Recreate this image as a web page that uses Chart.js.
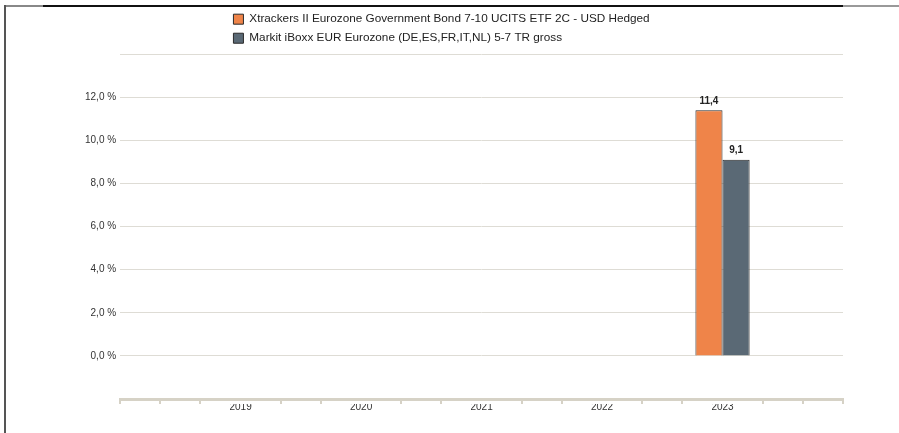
<!DOCTYPE html>
<html>
<head>
<meta charset="utf-8">
<script src="https://cdn.jsdelivr.net/npm/chart.js@4"></script>
<style>
  html, body { margin: 0; padding: 0; background: #fff; }
  #wrap { position: relative; width: 899px; height: 433px; overflow: hidden; }
  #frameTop { position: absolute; left: 4px; top: 5px; width: 895px; height: 2px;
    background: linear-gradient(to right, #888 0px, #888 39px, #111 39px, #111 839px, #999 839px); }
  #frameLeft { position: absolute; left: 4px; top: 5px; width: 2px; height: 428px; background: #555; }
  canvas { position: absolute; left: 0; top: 0; }
</style>
</head>
<body>
<div id="wrap">
  <div id="frameTop"></div>
  <div id="frameLeft"></div>
  <canvas id="chart" width="899" height="433"></canvas>
</div>
<script>
// categories (empty ones pad the axis on both sides)
const years = ["", "2019", "2020", "2021", "2022", "2023", ""];
const fundName = "Xtrackers II Eurozone Government Bond 7-10 UCITS ETF 2C - USD Hedged";
const indexName = "Markit iBoxx EUR Eurozone (DE,ES,FR,IT,NL) 5-7 TR gross";
const fundValues = [null, null, null, null, null, 11.4, null];
const indexValues = [null, null, null, null, null, 9.1, null];
const yTicks = [0, 2, 4, 6, 8, 10, 12];

const fmt = (v) => v.toFixed(1).replace(".", ",");

Chart.defaults.font.family = "'Liberation Sans', Arial, sans-serif";
Chart.defaults.font.size = 10;
Chart.defaults.color = "#333";

// move legend rows so they start where the original does
const legendShift = {
    id: "legendShift",
    afterLayout(chart) {
        chart.legend.left += 106;
    },
};

const valueLabels = {
    id: "valueLabels",
    afterDatasetsDraw(chart) {
        const ctx = chart.ctx;
        ctx.save();
        ctx.font = "bold 10px 'Liberation Sans', Arial, sans-serif";
        ctx.fillStyle = "#222";
        ctx.textAlign = "center";
        ctx.textBaseline = "bottom";
        chart.data.datasets.forEach((ds, i) => {
            chart.getDatasetMeta(i).data.forEach((bar, j) => {
                if (ds.data[j] == null) return;
                ctx.fillText(fmt(ds.data[j]), bar.x, bar.y - 4);
            });
        });
        ctx.restore();
    },
};

new Chart(document.getElementById("chart"), {
    type: "bar",
    data: {
        labels: years,
        datasets: [
            {
                label: fundName,
                data: fundValues,
                backgroundColor: "#EF8449",
                borderColor: "#2a2a2a",
                borderWidth: 1,
            },
            {
                label: indexName,
                data: indexValues,
                backgroundColor: "#5A6975",
                borderColor: "#2a2a2a",
                borderWidth: 1,
            },
        ],
    },
    options: {
        responsive: false,
        animation: false,
        categoryPercentage: 0.45,
        barPercentage: 1,
        layout: { padding: { top: 6, left: 81, right: 56, bottom: 23 } },
        scales: {
            x: {
                type: "category",
                offset: false,
                weight: 1,
                grid: { display: false, drawTicks: false },
                border: { display: false },
                ticks: { padding: -3, maxRotation: 0, autoSkip: false, color: "#333" },
            },
            // small tick marks, three per year
            xm: {
                type: "linear",
                position: "bottom",
                min: 0,
                max: 18,
                weight: 0,
                offset: false,
                afterBuildTicks: (scale) => {
                    const t = [];
                    for (let i = 0; i <= 18; i++) t.push({ value: i });
                    scale.ticks = t;
                },
                ticks: { display: false },
                grid: {
                    offset: false,
                    drawOnChartArea: false,
                    tickLength: 5,
                    lineWidth: 2,
                    color: (c) => {
                        const v = c.tick ? c.tick.value : 0;
                        return v % 3 === 0 && v !== 0 && v !== 18 ? "rgba(0,0,0,0)" : "#d6d2c6";
                    },
                },
                border: { display: true, color: "#d6d2c6", width: 3 },
            },
            y: {
                min: -2,
                max: 14,
                border: { display: false },
                grid: {
                    drawTicks: false,
                    color: (c) => (c.tick && c.tick.value < 0 ? "rgba(0,0,0,0)" : "#dedcd5"),
                },
                ticks: {
                    stepSize: 2,
                    padding: 4,
                    color: "#333",
                    callback: (v) => (yTicks.includes(v) ? fmt(v) + " %" : ""),
                },
            },
        },
        plugins: {
            legend: {
                position: "top",
                align: "start",
                fullSize: false,
                labels: {
                    boxWidth: 10,
                    boxHeight: 10,
                    padding: 7.3,
                    color: "#222",
                    font: { size: 11.75 },
                },
            },
            tooltip: { enabled: false },
        },
    },
    plugins: [legendShift, valueLabels],
});
</script>
</body>
</html>
